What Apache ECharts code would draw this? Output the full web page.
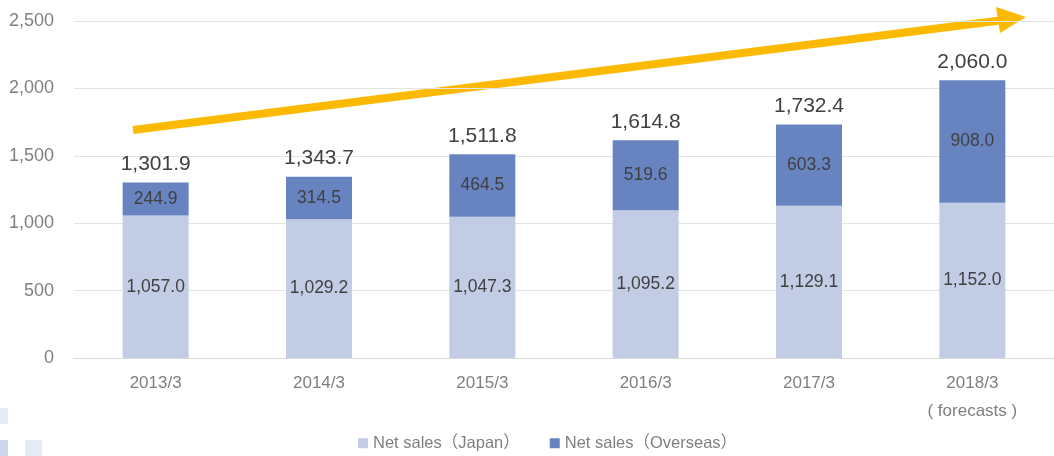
<!DOCTYPE html>
<html>
<head>
<meta charset="utf-8">
<script src="https://cdn.jsdelivr.net/npm/echarts@6/dist/echarts.min.js"></script>
<style>
  html, body { margin: 0; padding: 0; background: #fff; }
  #chart { width: 1054px; height: 456px; }
</style>
</head>
<body>
<div id="chart"></div>
<script>
// data
const categories = ['2013/3', '2014/3', '2015/3', '2016/3', '2017/3', '2018/3\n( forecasts )'];
const seriesNames = ['Net sales（Japan）', 'Net sales（Overseas）'];
const japan = [1057.0, 1029.2, 1047.3, 1095.2, 1129.1, 1152.0];
const overseas = [244.9, 314.5, 464.5, 519.6, 603.3, 908.0];
const totals = [1301.9, 1343.7, 1511.8, 1614.8, 1732.4, 2060.0];
const yTicks = [0, 500, 1000, 1500, 2000, 2500];

const fmt = v => v.toLocaleString('en-US', { minimumFractionDigits: 1, maximumFractionDigits: 1 });

const chart = echarts.init(document.getElementById('chart'));

chart.setOption({
  textStyle: { fontFamily: 'Liberation Sans, Arial, sans-serif' },
  animation: false,
  grid: { left: 74, right: -6, top: 21, bottom: 98 },
  legend: {
    top: 430,
    left: 353,
    itemWidth: 10,
    itemHeight: 10,
    itemGap: 30,
    icon: 'rect',
    textStyle: {
      color: '#7f7f7f',
      fontSize: 16.5,
      fontFamily: 'Liberation Sans, Noto Sans CJK JP, sans-serif'
    },
    data: seriesNames
  },
  xAxis: {
    type: 'category',
    data: categories,
    axisLine: { lineStyle: { color: '#d9d9d9' } },
    axisTick: { show: false },
    axisLabel: { color: '#7f7f7f', fontSize: 17, margin: 11, lineHeight: 28 }
  },
  yAxis: {
    type: 'value',
    min: yTicks[0],
    max: yTicks[yTicks.length - 1],
    interval: 500,
    axisLabel: {
      color: '#7f7f7f',
      fontSize: 18,
      margin: 20,
      formatter: v => v.toLocaleString('en-US')
    },
    splitLine: { lineStyle: { color: '#e3e3e3' } }
  },
  series: [
    {
      name: seriesNames[0],
      type: 'bar',
      stack: 'sales',
      barWidth: 66,
      data: japan,
      itemStyle: { color: '#c2cde5' },
      label: {
        show: true,
        position: 'inside',
        color: '#404040',
        fontSize: 17.5,
        formatter: p => fmt(p.value)
      }
    },
    {
      name: seriesNames[1],
      type: 'bar',
      stack: 'sales',
      barWidth: 66,
      data: overseas,
      itemStyle: { color: '#6783c0' },
      label: {
        show: true,
        position: 'inside',
        color: '#404040',
        fontSize: 17.5,
        formatter: p => fmt(p.value)
      }
    },
    {
      // totals drawn on top of the stack
      name: 'total',
      type: 'bar',
      stack: 'sales',
      barWidth: 66,
      data: totals.map(() => 0),
      itemStyle: { color: 'transparent' },
      label: {
        show: true,
        position: 'top',
        distance: 8,
        color: '#404040',
        fontSize: 21,
        formatter: p => fmt(totals[p.dataIndex])
      },
      tooltip: { show: false }
    }
  ],
  graphic: [
    // trend arrow
    {
      type: 'line',
      shape: { x1: 133, y1: 130, x2: 1000, y2: 20.5 },
      style: { stroke: '#fbb900', lineWidth: 8 }
    },
    {
      type: 'polygon',
      shape: { points: [[996, 7], [1026, 17], [1000, 33]] },
      style: { fill: '#fbb900' }
    },
    // decorative squares bottom-left
    { type: 'rect', shape: { x: 0, y: 408, width: 8, height: 16 }, style: { fill: '#e6ecf7' } },
    { type: 'rect', shape: { x: 0, y: 440, width: 8, height: 16 }, style: { fill: '#cdd8ee' } },
    { type: 'rect', shape: { x: 25, y: 440, width: 17, height: 16 }, style: { fill: '#e6ecf7' } }
  ]
});
</script>
</body>
</html>
